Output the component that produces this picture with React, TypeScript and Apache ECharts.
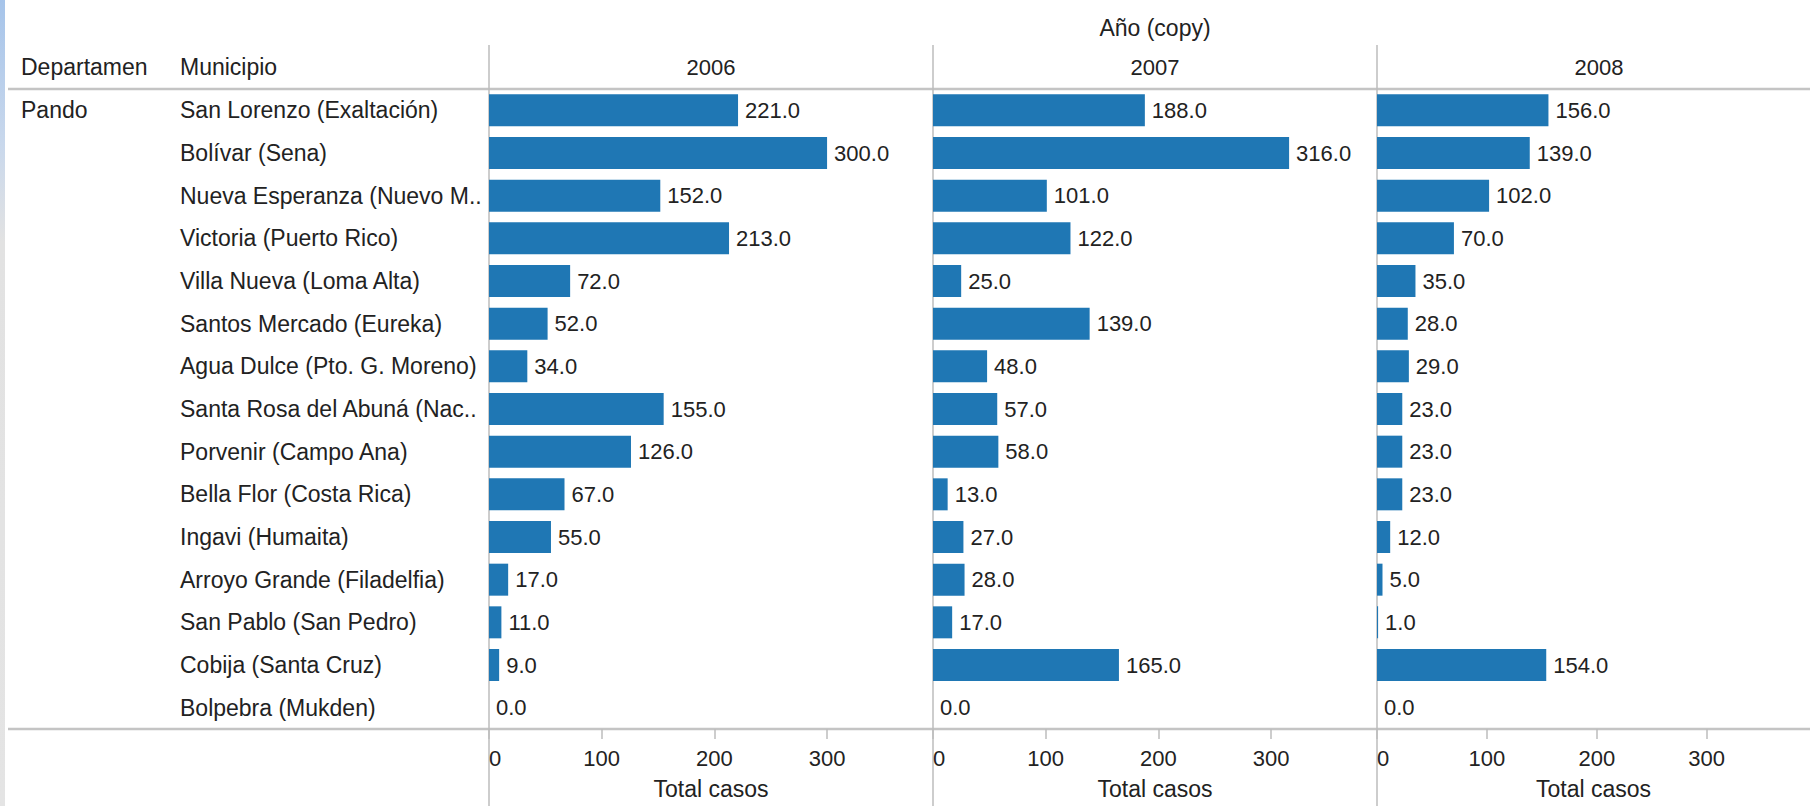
import React, { useEffect, useRef } from "react";
import * as echarts from "echarts";

const municipios = [
  "San Lorenzo (Exaltación)",
  "Bolívar (Sena)",
  "Nueva Esperanza (Nuevo M..",
  "Victoria (Puerto Rico)",
  "Villa Nueva (Loma Alta)",
  "Santos Mercado (Eureka)",
  "Agua Dulce (Pto. G. Moreno)",
  "Santa Rosa del Abuná (Nac..",
  "Porvenir (Campo Ana)",
  "Bella Flor (Costa Rica)",
  "Ingavi (Humaita)",
  "Arroyo Grande (Filadelfia)",
  "San Pablo (San Pedro)",
  "Cobija (Santa Cruz)",
  "Bolpebra (Mukden)",
];

const years = ["2006", "2007", "2008"];

const casos2006 = [221, 300, 152, 213, 72, 52, 34, 155, 126, 67, 55, 17, 11, 9, 0];
const casos2007 = [188, 316, 101, 122, 25, 139, 48, 57, 58, 13, 27, 28, 17, 165, 0];
const casos2008 = [156, 139, 102, 70, 35, 28, 29, 23, 23, 23, 12, 5, 1, 154, 0];

const tickValues = [0, 100, 200, 300];
const axisMax = 394;

const FONT = "'Liberation Sans', Arial, sans-serif";
const TEXT = "#222";
const FS = 22;
const FST = 23;

export default function App() {
  const ref = useRef<HTMLDivElement>(null);

  useEffect(() => {
    if (!ref.current) return;
    const chart = echarts.init(ref.current, undefined, { renderer: "svg" });
    const seriesData = [casos2006, casos2007, casos2008];
    const panelLeft = 489;
    const panelW = 444;
    const top = 89;
    const bottom = 729;

    const grids = years.map((_, i) => ({
      left: panelLeft + i * panelW,
      top,
      width: panelW,
      height: bottom - top,
      containLabel: false,
    }));

    const xAxes = years.map((_, i) => ({
      type: "value",
      gridIndex: i,
      min: 0,
      max: axisMax,
      interval: 100,
      name: "Total casos",
      nameLocation: "middle",
      nameGap: 48,
      nameTextStyle: { fontSize: FST, color: TEXT, fontFamily: FONT },
      axisLine: { show: false },
      axisTick: { show: true, length: 10, lineStyle: { color: "#bdbdbd", width: 1.5 } },
      splitLine: { show: false },
      axisLabel: {
        fontSize: FS,
        color: TEXT,
        fontFamily: FONT,
        margin: 18,
        showMaxLabel: false,
        alignMinLabel: "left",
        formatter: (v: number) => (tickValues.includes(v) ? String(v) : ""),
      },
    }));

    const yAxes = years.map((_, i) => ({
      type: "category",
      gridIndex: i,
      inverse: true,
      data: municipios,
      axisLine: { show: false },
      axisTick: { show: false },
      splitLine: { show: false },
      axisLabel: {
        show: i === 0,
        align: "left",
        margin: 309,
        fontSize: FST,
        color: TEXT,
        fontFamily: FONT,
      },
    }));

    const series = years.map((y, i) => ({
      type: "bar",
      name: y,
      xAxisIndex: i,
      yAxisIndex: i,
      data: seriesData[i],
      barWidth: 32,
      itemStyle: { color: "#1f77b4" },
      label: {
        show: true,
        position: "right",
        distance: 7,
        fontSize: FS,
        color: TEXT,
        fontFamily: FONT,
        formatter: (p: any) => Number(p.value).toFixed(1),
      },
    }));

    const lineGray = "#c4c4c4";
    const graphic: any[] = [
      {
        type: "rect",
        shape: { x: 0, y: 0, width: 5, height: 806 },
        style: {
          fill: new echarts.graphic.LinearGradient(0, 0, 0, 1, [
            { offset: 0, color: "#a6c4ea" },
            { offset: 0.18, color: "#c9d8ec" },
            { offset: 0.3, color: "#e2e2e2" },
            { offset: 1, color: "#e4e4e4" },
          ]),
        },
        silent: true,
      },
      {
        type: "line",
        shape: { x1: 8, y1: top, x2: 1810, y2: top },
        style: { stroke: lineGray, lineWidth: 2.5 },
        silent: true,
      },
      {
        type: "line",
        shape: { x1: 8, y1: bottom, x2: 1810, y2: bottom },
        style: { stroke: lineGray, lineWidth: 2.5 },
        silent: true,
      },
      {
        type: "text",
        x: 1155,
        y: 28,
        style: { text: "Año (copy)", fontSize: FST, fill: TEXT, fontFamily: FONT, align: "center", verticalAlign: "middle" },
      },
      {
        type: "text",
        x: 21,
        y: 67,
        style: { text: "Departamen", fontSize: FST, fill: TEXT, fontFamily: FONT, align: "left", verticalAlign: "middle" },
      },
      {
        type: "text",
        x: 180,
        y: 67,
        style: { text: "Municipio", fontSize: FST, fill: TEXT, fontFamily: FONT, align: "left", verticalAlign: "middle" },
      },
      {
        type: "text",
        x: 21,
        y: 110,
        style: { text: "Pando", fontSize: FST, fill: TEXT, fontFamily: FONT, align: "left", verticalAlign: "middle" },
      },
    ];
    years.forEach((y, i) => {
      const x = panelLeft + i * panelW;
      graphic.push({
        type: "line",
        shape: { x1: x, y1: 45, x2: x, y2: 806 },
        style: { stroke: "#bdbdbd", lineWidth: 1.5 },
        silent: true,
      });
      graphic.push({
        type: "text",
        x: x + panelW / 2,
        y: 67,
        style: { text: y, fontSize: FS, fill: TEXT, fontFamily: FONT, align: "center", verticalAlign: "middle" },
      });
    });

    chart.setOption({
      animation: false,
      backgroundColor: "#ffffff",
      textStyle: { fontFamily: FONT },
      grid: grids,
      xAxis: xAxes,
      yAxis: yAxes,
      series,
      graphic,
    } as any);

    return () => chart.dispose();
  }, []);

  return (
    <div
      ref={ref}
      style={{ position: "fixed", left: 0, top: 0, width: 1810, height: 806, background: "#fff" }}
    />
  );
}
